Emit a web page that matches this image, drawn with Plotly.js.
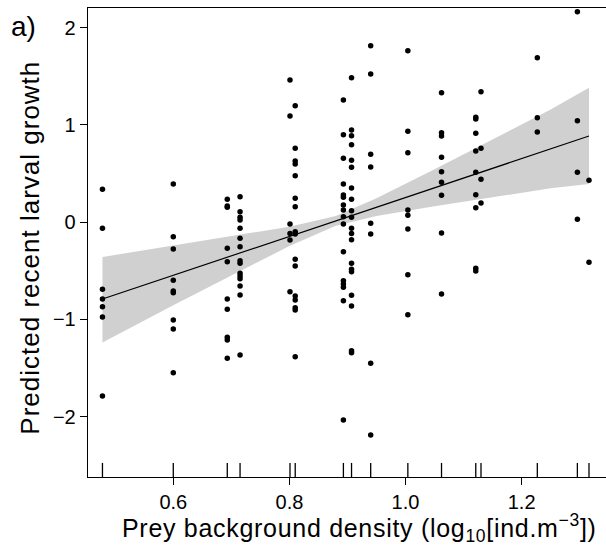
<!DOCTYPE html>
<html>
<head>
<meta charset="utf-8">
<script src="https://cdn.plot.ly/plotly-3.0.1.min.js"></script>
<style>
html,body{margin:0;padding:0;background:#fff;}
#chart{width:606px;height:548px;}
.annotation[data-index="1"] text{letter-spacing:0.7px;}
.annotation[data-index="2"] text{letter-spacing:1.0px;}
</style>
</head>
<body>
<div id="chart"></div>
<script>
// Prey background density levels (log10 ind. m^-3) — also used for the rug
const densityLevels = [0.478, 0.600, 0.693, 0.715, 0.801, 0.810, 0.893, 0.907, 0.940, 1.004, 1.062, 1.121, 1.130, 1.227, 1.296, 1.316];
// Predicted recent larval growth at each density level
const growthAtLevel = [
  [0.336, -0.065, -0.692, -0.792, -0.871, -0.977, -1.79],
  [0.391, -0.151, -0.278, -0.600, -0.709, -0.727, -1.008, -1.100, -1.55],
  [0.233, 0.165, 0.151, -0.271, -0.408, -0.792, -0.898, -1.186, -1.213, -1.40],
  [0.260, 0.106, 0.048, 0.021, -0.065, -0.168, -0.254, -0.398, -0.425, -0.528, -0.555, -0.583, -0.658, -0.751, -1.368],
  [1.460, 1.090, -0.021, -0.117, -0.185, -0.716],
  [1.196, 0.758, 0.627, 0.596, 0.476, 0.243, 0.158, -0.100, -0.123, -0.384, -0.452, -0.761, -0.802, -0.881, -0.905, -1.385],
  [1.254, 0.898, 0.655, 0.391, 0.278, 0.254, 0.175, 0.123, 0.055, -0.021, -0.305, -0.603, -0.638, -0.672, -0.809, -2.036],
  [1.484, 0.946, 0.888, 0.795, 0.634, 0.562, 0.350, 0.233, 0.116, 0.048, -0.065, -0.117, -0.182, -0.425, -0.487, -0.511, -0.754, -0.864, -1.323, -1.344],
  [1.813, 1.522, 0.696, 0.566, -0.014, -0.123, -1.453, -2.190],
  [1.762, 0.932, 0.713, 0.123, 0.069, -0.072, -0.542, -0.953],
  [1.330, 0.918, 0.884, 0.665, 0.517, 0.408, 0.274, -0.113, -0.740],
  [1.077, 1.059, 0.912, 0.730, 0.511, 0.281, 0.147, -0.476, -0.504],
  [1.340, 0.758, 0.440, 0.195],
  [1.690, 1.073, 0.925],
  [2.163, 1.042, 0.511, 0.028],
  [0.430, -0.414]
];
// Fitted line and its confidence band
const fitX = [0.478, 1.316];
const fitY = [-0.792, 0.884];
const bandX     = [0.478, 0.600, 0.700, 0.800, 0.880, 0.950, 1.050, 1.150, 1.250, 1.316];
const bandUpper = [-0.36, -0.24, -0.146, -0.048, 0.062, 0.243, 0.543, 0.849, 1.157, 1.38];
const bandLower = [-1.24, -0.856, -0.55, -0.248, -0.038, 0.061, 0.161, 0.255, 0.347, 0.39];
const xTickVals = [0.6, 0.8, 1.0, 1.2];
const xTickText = ['0.6', '0.8', '1.0', '1.2'];
const yTickVals = [-2, -1, 0, 1, 2];
const yTickText = ['\u22122', '\u22121', '0', '1', '2'];

const px = [], py = [];
densityLevels.forEach((x, i) => growthAtLevel[i].forEach(y => { px.push(x); py.push(y); }));

const FONT = 'Liberation Sans, Arial, Helvetica, sans-serif';
const traces = [
  {x: bandX, y: bandLower, mode: 'lines', line: {width: 0, color: 'rgba(0,0,0,0)'}, showlegend: false, hoverinfo: 'skip'},
  {x: bandX, y: bandUpper, mode: 'lines', line: {width: 0, color: 'rgba(0,0,0,0)'}, fill: 'tonexty', fillcolor: '#d0d0d0', showlegend: false, hoverinfo: 'skip'},
  {x: fitX, y: fitY, mode: 'lines', line: {color: '#000', width: 1.2}, showlegend: false},
  {x: px, y: py, mode: 'markers', marker: {color: '#000', size: 5.5}, showlegend: false}
];

const shapes = densityLevels.map(x => ({
  type: 'line', xref: 'x', yref: 'paper', x0: x, x1: x, y0: 0, y1: 0.03,
  line: {color: '#000', width: 1.3}
}));

const layout = {
  width: 606, height: 548,
  margin: {l: 88, r: 0, t: 8, b: 71},
  paper_bgcolor: '#fff', plot_bgcolor: '#fff',
  font: {family: FONT, color: '#000'},
  xaxis: {
    range: [0.4531, 1.3453], tickvals: xTickVals, ticktext: xTickText,
    ticks: 'outside', ticklen: 7, tickwidth: 1, tickcolor: '#000',
    showline: true, linecolor: '#000', linewidth: 1.3, mirror: true,
    showgrid: false, zeroline: false, tickfont: {size: 20, family: FONT}
  },
  yaxis: {
    range: [-2.622, 2.2005], tickvals: yTickVals, ticktext: yTickText,
    ticks: 'outside', ticklen: 7, tickwidth: 1, tickcolor: '#000',
    showline: true, linecolor: '#000', linewidth: 1.3,
    showgrid: false, zeroline: false, tickfont: {size: 20, family: FONT}
  },
  shapes: shapes,
  annotations: [{
    text: 'a)', xref: 'paper', yref: 'paper', x: -0.152, y: 0.96, xanchor: 'left', yanchor: 'middle',
    showarrow: false, font: {size: 28, family: FONT}
  }, {
    text: 'Prey background density (log<sub>10</sub>[ind.m<sup>\u22123</sup>])',
    xref: 'paper', yref: 'paper', x: 0.525, y: -0.108, xanchor: 'center', yanchor: 'middle',
    showarrow: false, font: {size: 25, family: FONT}
  }, {
    text: 'Predicted recent larval growth',
    xref: 'paper', yref: 'paper', x: -0.112, y: 0.489, xanchor: 'center', yanchor: 'middle',
    textangle: -90, showarrow: false, font: {size: 26, family: FONT}
  }]
};

Plotly.newPlot('chart', traces, layout, {staticPlot: true, displayModeBar: false});
</script>
</body>
</html>
